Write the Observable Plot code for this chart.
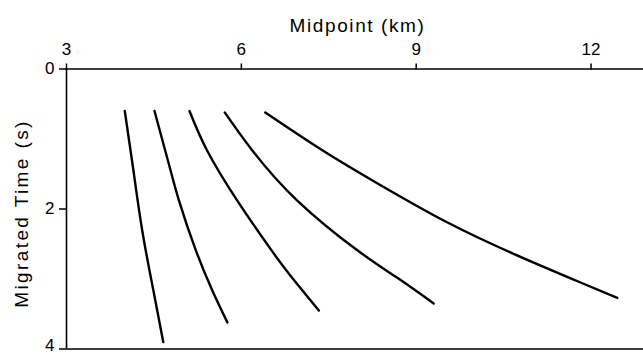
<!DOCTYPE html>
<html><head><meta charset="utf-8">
<script src="https://cdn.jsdelivr.net/npm/d3@7"></script>
<script src="https://cdn.jsdelivr.net/npm/@observablehq/plot@0.6"></script>
<style>html,body{margin:0;padding:0;background:#fff} svg{display:block}</style>
</head><body><div id="chart"></div>
<script>
const xTicks = [3, 6, 9, 12];
const yTicks = [0, 2, 4];
const yTicksUpper = [0, 2];
const yTicksLower = [4];
const xTitle = "Midpoint (km)";
const yTitle = "Migrated Time (s)";

const curve1Midpoint = [4.00, 4.14, 4.30, 4.49, 4.66];
const curve1Time     = [0.60, 1.40, 2.31, 3.16, 3.90];
const curve2Midpoint = [4.51, 4.77, 4.93, 5.21, 5.50, 5.76];
const curve2Time     = [0.60, 1.40, 1.88, 2.57, 3.16, 3.62];
const curve3Midpoint = [5.11, 5.41, 5.93, 6.50, 6.84, 7.33];
const curve3Time     = [0.60, 1.16, 1.88, 2.57, 2.95, 3.45];
const curve4Midpoint = [5.715, 6.185, 6.96, 7.99, 8.67, 9.30];
const curve4Time     = [0.62, 1.16, 1.88, 2.59, 2.98, 3.35];
const curve5Midpoint = [6.41, 7.39, 8.39, 9.53, 10.67, 11.82, 12.45];
const curve5Time     = [0.62, 1.16, 1.66, 2.19, 2.64, 3.05, 3.27];

const curves = [
  [curve1Midpoint, curve1Time],
  [curve2Midpoint, curve2Time],
  [curve3Midpoint, curve3Time],
  [curve4Midpoint, curve4Time],
  [curve5Midpoint, curve5Time]
];
const data = curves.flatMap(([xs, ts], i) => xs.map((x, j) => ({curve: i + 1, midpoint: x, time: ts[j]})));

const chart = Plot.plot({
  width: 643,
  height: 354,
  marginTop: 68.5,
  marginLeft: 66,
  marginRight: 0,
  marginBottom: 5.5,
  style: {fontFamily: "'Liberation Sans', Arial, Helvetica, sans-serif", fontSize: "17px", color: "black", background: "white"},
  x: {domain: [3, 12.9]},
  y: {domain: [0, 4], reverse: true},
  marks: [
    Plot.axisX({anchor: "top", ticks: xTicks, tickSize: 6, tickPadding: 8, tickFormat: d => String(d), label: null, fontSize: 17, strokeWidth: 1.5}),
    Plot.axisY({anchor: "left", ticks: yTicks, tickSize: 7, tickFormat: () => "", label: null, strokeWidth: 1.5}),
    Plot.axisY({anchor: "left", ticks: yTicksUpper, tickSize: 0, tickPadding: 12, tickFormat: d => String(d), label: null, fontSize: 17}),
    Plot.axisY({anchor: "left", ticks: yTicksLower, tickSize: 0, tickPadding: 12, tickFormat: d => String(d), label: null, fontSize: 17, dy: -3}),
    Plot.ruleY([0], {stroke: "black", strokeWidth: 1.4}),
    Plot.ruleY([4], {stroke: "black", strokeWidth: 1.6}),
    Plot.ruleX([3], {stroke: "black", strokeWidth: 1.6}),
    Plot.text([xTitle], {frameAnchor: "top", dx: 2.5, dy: -43, lineAnchor: "middle", textAnchor: "middle", fontSize: 19, fill: "black"}),
    Plot.text([yTitle], {frameAnchor: "left", rotate: -90, dx: -44.3, dy: 4.5, lineAnchor: "middle", textAnchor: "middle", fontSize: 19, fill: "black"}),
    Plot.line(data, {x: "midpoint", y: "time", z: "curve", curve: "natural", stroke: "black", strokeWidth: 2.4, strokeLinecap: "round"})
  ]
});
d3.select(chart).selectAll("text").filter(function () { return this.textContent === xTitle; }).attr("letter-spacing", "1.6px");
d3.select(chart).selectAll("text").filter(function () { return this.textContent === yTitle; }).attr("letter-spacing", "2.4px");
document.getElementById("chart").append(chart);
</script>
</body></html>
